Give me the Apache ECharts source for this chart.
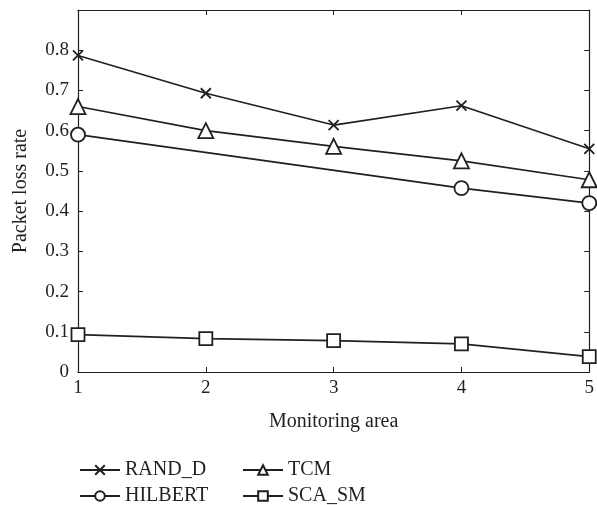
<!DOCTYPE html>
<html>
<head>
<meta charset="utf-8">
<script src="https://cdn.jsdelivr.net/npm/echarts@6/dist/echarts.min.js"></script>
<style>
  html, body { margin: 0; padding: 0; background: #fff; }
  #chart { width: 597px; height: 505px; }
</style>
</head>
<body>
<div id="chart"></div>
<script>
// monitoring areas (x) and packet loss rate per method
const areas = [1, 2, 3, 4, 5]
const randD = [0.787, 0.693, 0.614, 0.662, 0.555]
const tcm = [0.660, 0.600, 0.561, 0.525, 0.478]
// HILBERT only has markers at 1, 4 and 5
const hilbertAreas = [1, 4, 5]
const hilbert = [0.590, 0.457, 0.420]
const scaSm = [0.093, 0.083, 0.078, 0.070, 0.038]
const yTicks = [0, 0.1, 0.2, 0.3, 0.4, 0.5, 0.6, 0.7, 0.8]

const font = 'Liberation Serif'
const crossPath = 'path://M0,0L10,10M10,0L0,10'

function pairs (xs, ys) {
  return xs.map((x, i) => [x, ys[i]])
}

function makeSeries (name, data, symbol, size) {
  return {
    name: name,
    type: 'line',
    data: data,
    symbol: symbol,
    symbolSize: size,
    showAllSymbol: true,
    lineStyle: { color: '#231f20', width: 1.7 },
    itemStyle: { color: '#fff', borderColor: '#231f20', borderWidth: 1.8 },
    emphasis: { disabled: true },
    animation: false
  }
}

// one legend per entry so the 2x2 layout stays fixed
function makeLegend (name, left, top) {
  return {
    left: left,
    top: top,
    itemWidth: 40,
    itemHeight: 12,
    data: [name],
    textStyle: { fontFamily: font, fontSize: 20, color: '#231f20' }
  }
}

const chart = echarts.init(document.getElementById('chart'))
const axisLine = { show: true, onZero: false, lineStyle: { color: '#231f20', width: 1.2 } }
const tick = { show: true, inside: true, length: 5, lineStyle: { color: '#231f20', width: 1 } }

const option = {
  backgroundColor: '#fff',
  animation: false,
  grid: { left: 78, right: 4, top: 10, bottom: 133 },
  legend: [
    makeLegend('RAND_D', 74, 455),
    makeLegend('HILBERT', 74, 481),
    makeLegend('TCM', 237, 455),
    makeLegend('SCA_SM', 237, 481)
  ],
  xAxis: [
    {
      type: 'value',
      min: 1,
      max: 5,
      interval: 1,
      name: 'Monitoring area',
      nameLocation: 'middle',
      nameGap: 40,
      nameTextStyle: { fontFamily: font, fontSize: 20, color: '#231f20' },
      axisLine: axisLine,
      axisTick: tick,
      splitLine: { show: false },
      axisLabel: { fontFamily: font, fontSize: 19, color: '#231f20', margin: 7 }
    },
    {
      type: 'value',
      position: 'top',
      min: 1,
      max: 5,
      interval: 1,
      axisLine: axisLine,
      axisTick: tick,
      splitLine: { show: false },
      axisLabel: { show: false }
    }
  ],
  yAxis: [
    {
      type: 'value',
      min: 0,
      max: 0.9,
      interval: 0.1,
      name: 'Packet loss rate',
      nameLocation: 'middle',
      nameGap: 47,
      nameTextStyle: { fontFamily: font, fontSize: 20, color: '#231f20' },
      axisLine: axisLine,
      axisTick: tick,
      splitLine: { show: false },
      axisLabel: {
        fontFamily: font,
        fontSize: 19,
        color: '#231f20',
        margin: 9,
        formatter: v => {
          const t = yTicks.find(y => Math.abs(y - v) < 1e-6)
          return t === undefined ? '' : String(t)
        }
      }
    },
    {
      type: 'value',
      position: 'right',
      min: 0,
      max: 0.9,
      interval: 0.1,
      axisLine: axisLine,
      axisTick: tick,
      splitLine: { show: false },
      axisLabel: { show: false }
    }
  ],
  series: [
    makeSeries('RAND_D', pairs(areas, randD), crossPath, 10),
    makeSeries('TCM', pairs(areas, tcm), 'triangle', 15),
    makeSeries('HILBERT', pairs(hilbertAreas, hilbert), 'circle', 14),
    makeSeries('SCA_SM', pairs(areas, scaSm), 'rect', 13)
  ]
}
chart.setOption(option)
</script>
</body>
</html>
